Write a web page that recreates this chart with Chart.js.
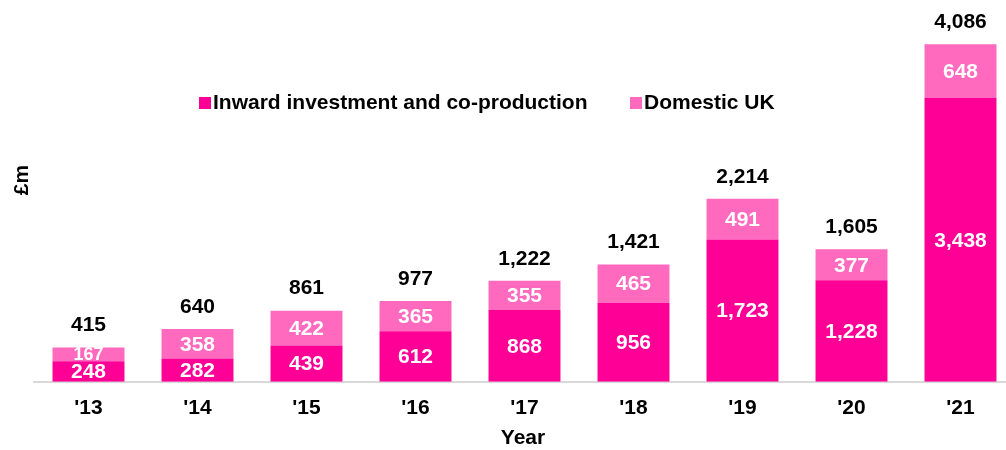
<!DOCTYPE html>
<html>
<head>
<meta charset="utf-8">
<script src="https://cdn.jsdelivr.net/npm/chart.js@4"></script>
<style>
  html, body { margin: 0; padding: 0; background: #fff; overflow: hidden; }
  #wrap { width: 1015px; height: 450px; }
</style>
</head>
<body>
<div id="wrap"><canvas id="chartCanvas"></canvas></div>
<script>
const years = ["'13", "'14", "'15", "'16", "'17", "'18", "'19", "'20", "'21"];
const inward = [248, 282, 439, 612, 868, 956, 1723, 1228, 3438];
const domestic = [167, 358, 422, 365, 355, 465, 491, 377, 648];
const totals = [415, 640, 861, 977, 1222, 1421, 2214, 1605, 4086];

const darkPink = '#ff0096';
const lightPink = '#ff69be';
const FONT = '"Liberation Sans", Arial, sans-serif';

const labelsPlugin = {
  id: 'labels',
  afterDatasetsDraw(chart) {
    const ctx = chart.ctx;
    ctx.save();
    ctx.textAlign = 'center';
    ctx.textBaseline = 'middle';
    chart.data.datasets.forEach((ds, i) => {
      chart.getDatasetMeta(i).data.forEach((bar, j) => {
        // the thin '13 domestic slice gets a smaller label
        const h = Math.abs(bar.base - bar.y);
        ctx.font = 'bold ' + (h < 20 ? 18 : 21) + 'px ' + FONT;
        ctx.fillStyle = '#fff';
        ctx.fillText(ds.data[j].toLocaleString('en-GB'), bar.x, (bar.y + bar.base) / 2 + 1);
      });
    });
    // totals above bars
    ctx.font = 'bold 21px ' + FONT;
    ctx.fillStyle = '#000';
    chart.getDatasetMeta(1).data.forEach((bar, j) => {
      ctx.fillText(totals[j].toLocaleString('en-GB'), bar.x, bar.y - 22);
    });
    // axis titles
    ctx.fillText('Year', 523, 438);
    ctx.save();
    ctx.translate(22, 180);
    ctx.rotate(-Math.PI / 2);
    ctx.fillText('£m', 0, 0);
    ctx.restore();
    // legend
    ctx.textAlign = 'left';
    const items = [
      { x: 199, color: darkPink, text: chart.data.datasets[0].label },
      { x: 630, color: lightPink, text: chart.data.datasets[1].label }
    ];
    items.forEach(it => {
      ctx.fillStyle = it.color;
      ctx.fillRect(it.x, 97, 12, 12);
      ctx.fillStyle = '#000';
      ctx.fillText(it.text, it.x + 14, 103);
    });
    ctx.restore();
  }
};

new Chart(document.getElementById('chartCanvas'), {
  type: 'bar',
  data: {
    labels: years,
    datasets: [
      { label: 'Inward investment and co-production', data: inward, backgroundColor: darkPink },
      { label: 'Domestic UK', data: domestic, backgroundColor: lightPink }
    ]
  },
  options: {
    responsive: true,
    maintainAspectRatio: false,
    animation: false,
    layout: { padding: { left: 34, right: 0, top: 10, bottom: 23 } },
    plugins: {
      legend: { display: false },
      tooltip: { enabled: false }
    },
    datasets: { bar: { categoryPercentage: 0.66, barPercentage: 1 } },
    scales: {
      x: {
        stacked: true,
        grid: { display: false },
        border: { color: '#d9d9d9', width: 2 },
        ticks: { color: '#000', font: { family: FONT, size: 21, weight: 'bold' }, padding: 6 }
      },
      y: {
        stacked: true,
        display: false,
        min: 0,
        max: 4500
      }
    }
  },
  plugins: [labelsPlugin]
});
</script>
</body>
</html>
